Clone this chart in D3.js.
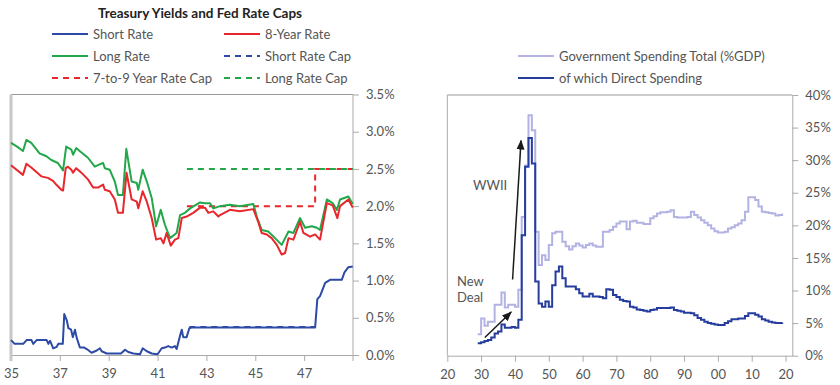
<!DOCTYPE html>
<html>
<head>
<meta charset="utf-8">
<script src="https://cdn.jsdelivr.net/npm/d3@7"></script>
<style>
body { margin: 0; background: #fff; }
text { font-family: Lato, "Open Sans", sans-serif; }
</style>
</head>
<body>
<svg width="840" height="385"></svg>
<script>
// left panel: treasury yields, [year, %]
var longRate = [[1935.0,2.85],[1935.25,2.80],[1935.49,2.74],[1935.63,2.89],[1935.83,2.85],[1936.17,2.71],[1936.45,2.67],
  [1936.65,2.62],[1936.92,2.58],[1937.13,2.48],[1937.26,2.80],[1937.47,2.76],[1937.54,2.69],[1937.67,2.78],[1937.81,2.74],
  [1938.15,2.65],[1938.43,2.53],[1938.63,2.56],[1938.77,2.58],[1938.84,2.51],[1939.04,2.49],[1939.25,2.33],[1939.38,2.15],
  [1939.58,2.15],[1939.72,2.77],[1939.94,2.33],[1940.15,2.31],[1940.21,2.22],[1940.39,2.49],[1940.56,2.33],[1940.76,2.11],
  [1940.94,1.73],[1941.13,1.95],[1941.30,1.75],[1941.51,1.57],[1941.78,1.64],[1941.92,1.88],[1942.12,1.91],[1942.33,1.97],
  [1942.74,2.05],[1942.94,2.04],[1943.15,2.04],[1943.28,1.97],[1943.56,2.00],[1943.96,2.02],[1944.37,2.00],[1944.92,2.03],
  [1945.06,1.86],[1945.26,1.68],[1945.53,1.66],[1945.81,1.57],[1946.08,1.48],[1946.36,1.66],[1946.56,1.64],[1946.83,1.84],
  [1947.04,1.71],[1947.31,1.73],[1947.52,1.71],[1947.65,1.68],[1947.93,2.09],[1948.17,2.04],[1948.34,1.95],[1948.47,2.09],
  [1948.81,2.13],[1948.99,2.03]];

var eightYear = [[1935.0,2.55],[1935.49,2.42],[1935.63,2.57],[1935.83,2.52],[1936.24,2.40],[1936.51,2.38],[1936.72,2.34],
  [1936.85,2.29],[1937.06,2.22],[1937.13,2.21],[1937.24,2.51],[1937.33,2.53],[1937.47,2.49],[1937.54,2.45],[1937.67,2.51],
  [1937.88,2.45],[1938.15,2.36],[1938.36,2.25],[1938.56,2.25],[1938.77,2.29],[1938.84,2.22],[1939.04,2.20],[1939.25,2.09],
  [1939.38,1.91],[1939.58,1.91],[1939.73,2.45],[1939.94,2.09],[1940.15,2.06],[1940.21,1.97],[1940.39,2.20],[1940.56,2.06],
  [1940.76,1.84],[1940.94,1.55],[1941.13,1.57],[1941.24,1.50],[1941.37,1.64],[1941.54,1.47],[1941.71,1.55],[1941.85,1.57],
  [1941.99,1.84],[1942.19,1.86],[1942.46,1.91],[1942.74,1.98],[1942.94,1.98],[1943.08,1.91],[1943.28,1.93],[1943.49,1.86],
  [1943.56,1.88],[1943.96,1.95],[1944.37,1.93],[1944.92,1.96],[1945.12,1.79],[1945.26,1.64],[1945.47,1.62],[1945.67,1.57],
  [1945.88,1.48],[1946.08,1.35],[1946.22,1.37],[1946.36,1.57],[1946.56,1.55],[1946.83,1.79],[1946.97,1.64],[1947.24,1.59],
  [1947.45,1.62],[1947.65,1.55],[1947.93,2.04],[1948.17,2.01],[1948.36,1.84],[1948.47,2.00],[1948.81,2.09],[1948.99,1.98]];

var shortRate = [[1935.0,0.20],[1935.15,0.15],[1935.5,0.15],[1935.64,0.20],[1935.84,0.20],[1935.91,0.15],[1936.05,0.20],
  [1936.46,0.20],[1936.53,0.15],[1936.6,0.19],[1936.73,0.09],[1936.87,0.11],[1936.94,0.15],[1937.12,0.15],[1937.18,0.55],
  [1937.28,0.47],[1937.35,0.36],[1937.46,0.34],[1937.53,0.24],[1937.62,0.34],[1937.69,0.23],[1937.82,0.10],[1938.0,0.10],
  [1938.1,0.08],[1938.3,0.03],[1938.51,0.06],[1938.64,0.09],[1938.71,0.05],[1938.92,0.02],[1939.5,0.02],[1939.67,0.07],
  [1939.8,0.04],[1940.01,0.02],[1940.28,0.01],[1940.39,0.09],[1940.56,0.05],[1940.76,0.02],[1941.0,0.01],[1941.17,0.09],
  [1941.3,0.10],[1941.44,0.12],[1941.58,0.10],[1941.71,0.12],[1941.78,0.08],[1941.92,0.26],[1941.99,0.34],[1942.05,0.24],
  [1942.19,0.24],[1942.3,0.36],[1942.39,0.37],[1947.45,0.37],[1947.54,0.75],[1947.65,0.79],[1947.86,0.97],[1948.06,1.01],
  [1948.54,1.01],[1948.65,1.11],[1948.81,1.18],[1948.99,1.19]];

var shortCap = [[1942.3,0.375],[1947.45,0.375]];
var midCap = [[1942.2,2.0],[1947.45,2.0],[1947.45,2.5],[1949,2.5]];
var longCap = [[1942.2,2.5],[1949,2.5]];
var leftYearTicks = [1935,1937,1939,1941,1943,1945,1947];
var leftPctTicks = [0,0.5,1,1.5,2,2.5,3,3.5];

// right panel: government spending (%GDP), annual from 1929
var spendStart = 1929;
var spendTotal = [3.3,
  5.7,4.6,5.2,5.2,7.8,7.8,9.7,7.4,7.8,7.8,
  7.5,10.1,21.3,29.2,36.9,34.6,19.0,13.9,15.4,14.7,
  17.0,18.8,19.0,19.0,17.5,16.8,16.3,16.8,17.2,16.9,
  16.6,17.0,17.2,16.9,16.7,16.7,19.0,19.0,19.3,19.8,
  20.3,20.6,20.6,19.4,20.6,20.7,20.4,20.4,20.2,20.2,
  21.1,21.4,21.8,22.0,22.0,22.1,22.3,21.3,21.2,21.2,
  21.2,21.3,22.1,21.6,21.2,20.8,20.4,20.0,19.5,19.1,
  18.9,18.9,19.0,19.5,19.7,20.0,20.3,20.8,22.1,24.3,
  24.3,23.9,22.9,22.1,22.0,21.9,21.8,21.5,21.6,21.8];
var spendDirect = [1.9,
  2.05,2.25,2.4,2.8,3.4,3.7,4.8,4.3,4.3,4.4,
  4.3,5.5,18.5,29.0,33.4,29.5,11.4,8.0,7.5,8.3,
  7.5,10.8,12.9,13.7,11.9,10.6,10.6,10.6,10.2,9.6,
  9.1,9.1,9.5,9.1,9.1,9.0,8.8,10.2,10.1,9.3,
  9.0,8.6,8.4,8.3,7.5,7.4,7.1,7.0,6.9,6.8,
  7.0,7.1,7.3,7.3,7.3,7.3,7.4,7.0,6.9,6.8,
  6.6,6.6,6.5,6.2,5.8,5.5,5.2,5.0,4.9,4.8,
  4.7,4.7,5.0,5.3,5.6,5.6,5.7,5.7,6.1,6.5,
  6.5,6.3,6.0,5.6,5.4,5.2,5.1,5.0,5.0,5.1];
var rightYearTicks = [1920,1930,1940,1950,1960,1970,1980,1990,2000,2010,2020];
var rightPctTicks = [0,5,10,15,20,25,30,35,40];

var svg = d3.select("svg");
var axisGray = "#aaa", labelGray = "#555";

var defs = svg.append("defs");
defs.append("marker")
    .attr("id", "arrow")
    .attr("markerUnits", "userSpaceOnUse")
    .attr("markerWidth", 10)
    .attr("markerHeight", 10)
    .attr("viewBox", "0 0 10 10")
    .attr("refX", 9)
    .attr("refY", 5)
    .attr("orient", "auto")
    .append("path")
    .attr("d", "M0,1 L10,5 L0,9 Z")
    .attr("fill", "#1a1a1a");

function styleAxis(g) {
    g.select(".domain").attr("stroke", axisGray);
    g.selectAll(".tick line").attr("stroke", axisGray);
    g.selectAll(".tick text").attr("fill", labelGray).style("font-size", "13px")
        .style("font-family", "Lato, 'Open Sans', sans-serif");
}

function legendRow(x, y, color, dashed, label, lineLen) {
    svg.append("line")
        .attr("x1", x).attr("x2", x + lineLen)
        .attr("y1", y).attr("y2", y)
        .attr("stroke", color).attr("stroke-width", 2)
        .attr("stroke-dasharray", dashed ? "6,5" : null);
    svg.append("text")
        .attr("x", x + lineLen + 5).attr("y", y + 4.5)
        .attr("fill", labelGray)
        .style("font-size", "13px")
        .text(label);
}

// ---------- left panel ----------
var L = {l: 11, r: 353, t: 94.5, b: 355};
var xL = d3.scaleLinear().domain([1935, 1949]).range([L.l, L.r]);
var yL = d3.scaleLinear().domain([0, 3.5]).range([L.b, L.t]);

svg.append("line").attr("x1", L.l).attr("x2", L.r).attr("y1", L.t).attr("y2", L.t)
    .attr("stroke", "#999").attr("stroke-width", 1);

var gxL = svg.append("g").attr("transform", "translate(0," + L.b + ")")
    .call(d3.axisBottom(xL).tickValues(leftYearTicks).tickSize(6).tickSizeOuter(0)
        .tickFormat(function (d) { return String(d % 100); }));
styleAxis(gxL);
gxL.selectAll(".tick text").attr("dy", "1.1em");

var gyL = svg.append("g").attr("transform", "translate(" + L.r + ",0)")
    .call(d3.axisRight(yL).tickValues(leftPctTicks).tickSize(6).tickSizeOuter(0)
        .tickFormat(function (d) { return d.toFixed(1) + "%"; }));
styleAxis(gyL);
gyL.select(".domain").attr("d", "M0," + L.t + "V" + (L.b + 6));
gyL.selectAll(".tick text").attr("x", 13);

svg.append("line").attr("x1", L.l).attr("x2", L.l).attr("y1", L.t).attr("y2", L.b + 6)
    .attr("stroke", "#c8c8c8").attr("stroke-width", 3);

var lineL = d3.line().x(function (d) { return xL(d[0]); }).y(function (d) { return yL(d[1]); });

svg.append("path").datum(midCap).attr("d", lineL).attr("fill", "none")
    .attr("stroke", "#e8262b").attr("stroke-width", 2).attr("stroke-dasharray", "6,5");
svg.append("path").datum(longCap).attr("d", lineL).attr("fill", "none")
    .attr("stroke", "#22a84a").attr("stroke-width", 2).attr("stroke-dasharray", "6,5");
svg.append("path").datum(shortCap).attr("d", lineL).attr("fill", "none")
    .attr("stroke", "#2c4aa6").attr("stroke-width", 2).attr("stroke-dasharray", "6,5");
svg.append("path").datum(longRate).attr("d", lineL).attr("fill", "none")
    .attr("stroke", "#22a84a").attr("stroke-width", 2).attr("stroke-linejoin", "round");
svg.append("path").datum(eightYear).attr("d", lineL).attr("fill", "none")
    .attr("stroke", "#e8262b").attr("stroke-width", 2).attr("stroke-linejoin", "round");
svg.append("path").datum(shortRate).attr("d", lineL).attr("fill", "none")
    .attr("stroke", "#2c4aa6").attr("stroke-width", 2).attr("stroke-linejoin", "round");

svg.append("text").attr("x", 200).attr("y", 18).attr("text-anchor", "middle")
    .attr("fill", "#222").style("font-size", "13.5px").style("font-weight", "bold")
    .text("Treasury Yields and Fed Rate Caps");
legendRow(52, 34, "#2c4aa6", false, "Short Rate", 36);
legendRow(224, 34, "#e8262b", false, "8-Year Rate", 36);
legendRow(52, 56, "#22a84a", false, "Long Rate", 36);
legendRow(224, 56, "#2c4aa6", true, "Short Rate Cap", 36);
legendRow(52, 78, "#e8262b", true, "7-to-9 Year Rate Cap", 36);
legendRow(224, 78, "#22a84a", true, "Long Rate Cap", 36);

// ---------- right panel ----------
var R = {l: 447.3, r: 792.3, t: 95, b: 355.7};
var xR = d3.scaleLinear().domain([1920, 2022]).range([R.l, R.r]);
var yR = d3.scaleLinear().domain([0, 40]).range([R.b, R.t]);

svg.append("line").attr("x1", R.l).attr("x2", R.r).attr("y1", R.t).attr("y2", R.t)
    .attr("stroke", "#999").attr("stroke-width", 1);
svg.append("line").attr("x1", R.l).attr("x2", R.l).attr("y1", R.t).attr("y2", R.b)
    .attr("stroke", "#aaa").attr("stroke-width", 1);

var gxR = svg.append("g").attr("transform", "translate(0," + R.b + ")")
    .call(d3.axisBottom(xR).tickValues(rightYearTicks).tickSize(6).tickSizeOuter(0)
        .tickFormat(function (d) { return d3.format("02d")(d % 100); }));
styleAxis(gxR);
gxR.selectAll(".tick text").attr("dy", "1.1em");

var gyR = svg.append("g").attr("transform", "translate(" + R.r + ",0)")
    .call(d3.axisRight(yR).tickValues(rightPctTicks).tickSize(6).tickSizeOuter(0)
        .tickFormat(function (d) { return d + "%"; }));
styleAxis(gyR);
gyR.selectAll(".tick text").attr("x", 13);

var spendData = spendTotal.map(function (v, i) {
    return {year: spendStart + i, total: v, direct: spendDirect[i]};
});
var stepTotal = d3.line().curve(d3.curveStepAfter)
    .x(function (d) { return xR(d.year); }).y(function (d) { return yR(d.total); });
var stepDirect = d3.line().curve(d3.curveStepAfter)
    .x(function (d) { return xR(d.year); }).y(function (d) { return yR(d.direct); });

svg.append("path").datum(spendData).attr("d", stepTotal).attr("fill", "none")
    .attr("stroke", "#b3b3e3").attr("stroke-width", 2);
svg.append("path").datum(spendData).attr("d", stepDirect).attr("fill", "none")
    .attr("stroke", "#263d9e").attr("stroke-width", 2);

// annotations
svg.append("line")
    .attr("x1", xR(1931.1)).attr("y1", yR(2.8))
    .attr("x2", xR(1938.9)).attr("y2", yR(6.7))
    .attr("stroke", "#1a1a1a").attr("stroke-width", 1.5)
    .attr("marker-end", "url(#arrow)");
svg.append("line")
    .attr("x1", xR(1939.3)).attr("y1", yR(11.7))
    .attr("x2", xR(1941.8)).attr("y2", yR(33.0))
    .attr("stroke", "#1a1a1a").attr("stroke-width", 1.5)
    .attr("marker-end", "url(#arrow)");
svg.append("text").attr("x", 473).attr("y", 190).attr("fill", labelGray)
    .style("font-size", "13px").text("WWII");
svg.append("text").attr("x", 457).attr("y", 286).attr("fill", labelGray)
    .style("font-size", "13px").text("New");
svg.append("text").attr("x", 457).attr("y", 302).attr("fill", labelGray)
    .style("font-size", "13px").text("Deal");

legendRow(518, 56, "#b3b3e3", false, "Government Spending Total (%GDP)", 36);
legendRow(518, 78, "#263d9e", false, "of which Direct Spending", 36);
</script>
</body>
</html>
